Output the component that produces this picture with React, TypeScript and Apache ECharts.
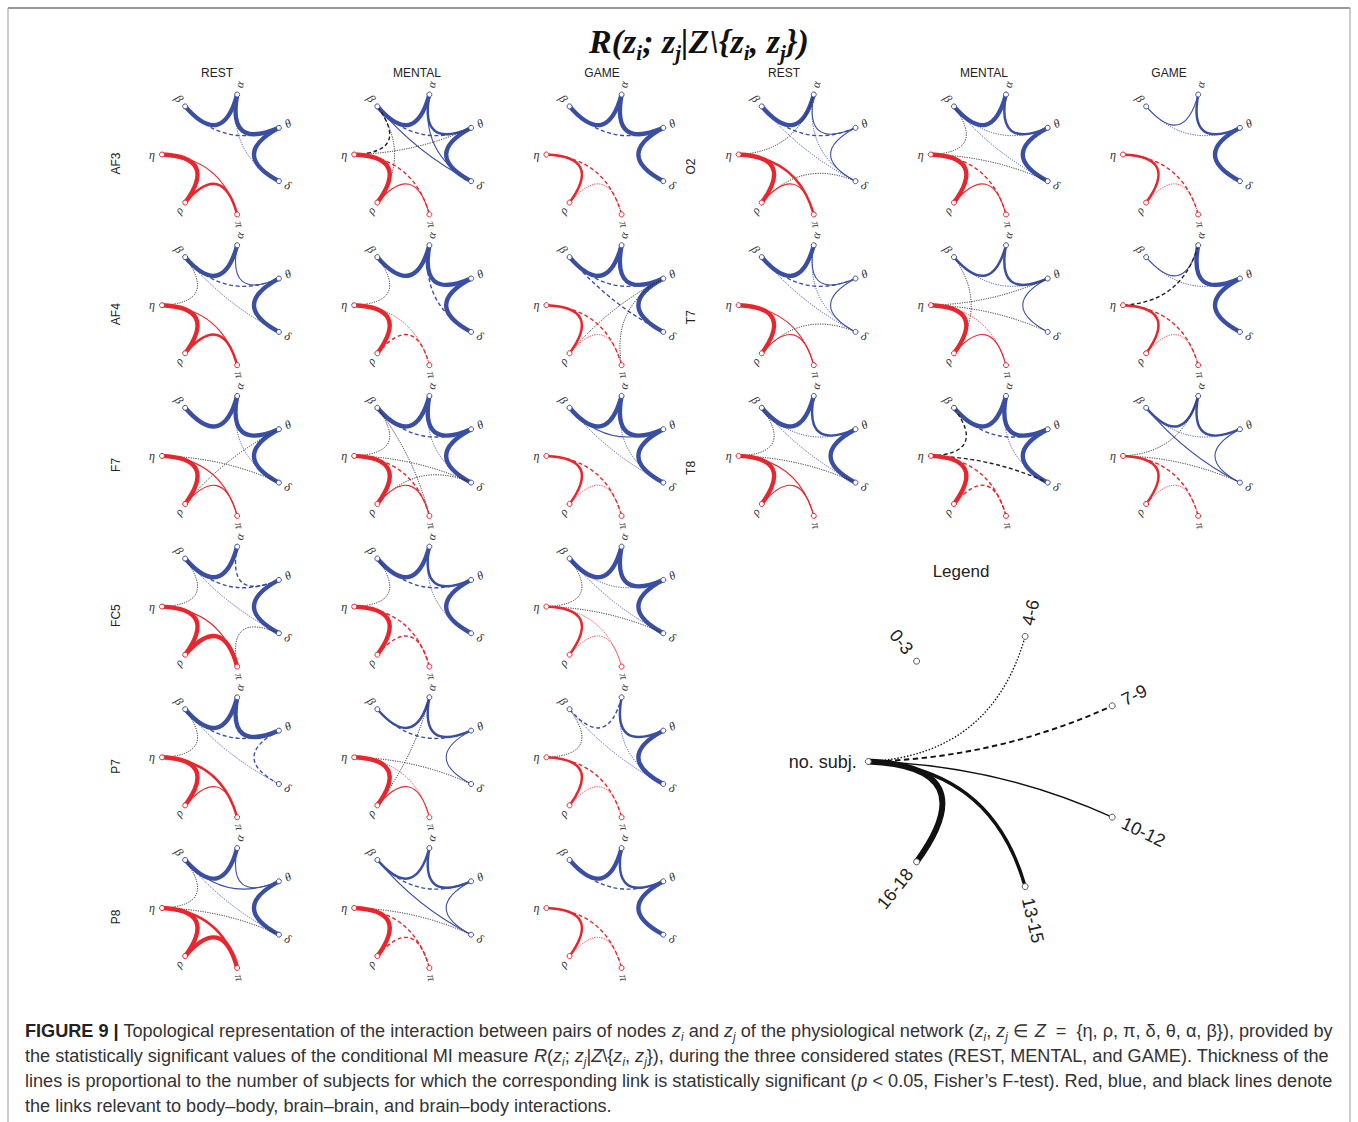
import React, { useEffect, useRef } from 'react';
import * as echarts from 'echarts';

// ---------- data ----------
// node order follows the circular layout (clockwise from the lower right)
const NODES = ['δ', 'π', 'ρ', 'η', 'β', 'α', 'θ'];
const BRAIN_NODES = ['δ', 'θ', 'α', 'β'];
const STATES = ['REST', 'MENTAL', 'GAME'];
const CHANNELS_LEFT = ['AF3', 'AF4', 'F7', 'FC5', 'P7', 'P8'];
const CHANNELS_RIGHT = ['O2', 'T7', 'T8'];
// significance level of a link: 1 = 4-6, 2 = 7-9, 3 = 10-12, 4 = 13-15, 5 = 16-18 subjects
const LEVEL_LABELS = ['0-3', '4-6', '7-9', '10-12', '13-15', '16-18'];
const LEGEND_NODES = ['10-12', '13-15', '16-18', 'no. subj.', '0-3', '4-6', '7-9'];

type Link = [string, string, number];

const AF3: Link[][] = [
  [['β', 'α', 5], ['α', 'θ', 5], ['θ', 'δ', 5], ['β', 'θ', 2], ['α', 'δ', 1], ['η', 'ρ', 5], ['ρ', 'π', 4], ['η', 'π', 3]],
  [['β', 'α', 5], ['α', 'θ', 4], ['θ', 'δ', 5], ['β', 'θ', 2], ['β', 'δ', 3], ['α', 'δ', 3], ['β', 'η', 2], ['β', 'ρ', 1], ['θ', 'η', 1], ['η', 'ρ', 5], ['ρ', 'π', 3], ['η', 'π', 2]],
  [['β', 'α', 5], ['α', 'θ', 5], ['θ', 'δ', 5], ['β', 'θ', 2], ['η', 'ρ', 4], ['ρ', 'π', 1], ['η', 'π', 2]],
];
const AF4: Link[][] = [
  [['β', 'α', 5], ['α', 'θ', 3], ['θ', 'δ', 5], ['β', 'θ', 2], ['β', 'δ', 1], ['β', 'η', 1], ['η', 'ρ', 5], ['ρ', 'π', 4], ['η', 'π', 3]],
  [['β', 'α', 5], ['α', 'θ', 5], ['θ', 'δ', 5], ['α', 'δ', 2], ['β', 'η', 1], ['η', 'ρ', 5], ['ρ', 'π', 2], ['η', 'π', 1]],
  [['β', 'α', 5], ['α', 'θ', 5], ['θ', 'δ', 5], ['β', 'θ', 2], ['β', 'δ', 2], ['θ', 'ρ', 1], ['θ', 'π', 1], ['η', 'ρ', 4], ['ρ', 'π', 1], ['η', 'π', 2]],
];
const F7: Link[][] = [
  [['β', 'α', 5], ['α', 'θ', 5], ['θ', 'δ', 5], ['α', 'δ', 1], ['θ', 'ρ', 1], ['η', 'δ', 1], ['η', 'ρ', 5], ['ρ', 'π', 3], ['η', 'π', 3]],
  [['β', 'α', 5], ['α', 'θ', 5], ['θ', 'δ', 5], ['β', 'θ', 2], ['α', 'δ', 1], ['β', 'η', 1], ['β', 'π', 1], ['η', 'δ', 1], ['ρ', 'δ', 1], ['η', 'ρ', 5], ['ρ', 'π', 3], ['η', 'π', 2]],
  [['β', 'α', 5], ['α', 'θ', 5], ['θ', 'δ', 5], ['β', 'θ', 3], ['β', 'δ', 1], ['α', 'δ', 1], ['η', 'ρ', 4], ['ρ', 'π', 1], ['η', 'π', 2]],
];
const FC5: Link[][] = [
  [['β', 'α', 5], ['α', 'θ', 2], ['θ', 'δ', 5], ['β', 'θ', 2], ['β', 'δ', 1], ['β', 'η', 1], ['δ', 'π', 1], ['η', 'ρ', 5], ['ρ', 'π', 5], ['η', 'π', 3]],
  [['β', 'α', 5], ['α', 'θ', 4], ['θ', 'δ', 5], ['β', 'θ', 2], ['α', 'δ', 1], ['β', 'η', 1], ['η', 'ρ', 5], ['ρ', 'π', 2], ['η', 'π', 2]],
  [['β', 'α', 5], ['α', 'θ', 5], ['θ', 'δ', 5], ['β', 'θ', 1], ['β', 'δ', 1], ['β', 'η', 1], ['η', 'δ', 1], ['η', 'ρ', 4], ['η', 'π', 1], ['ρ', 'π', 1]],
];
const P7: Link[][] = [
  [['β', 'α', 5], ['α', 'θ', 5], ['θ', 'δ', 2], ['β', 'θ', 2], ['β', 'δ', 1], ['β', 'η', 1], ['η', 'ρ', 5], ['ρ', 'π', 3], ['η', 'π', 4]],
  [['β', 'α', 4], ['α', 'θ', 4], ['θ', 'δ', 3], ['β', 'θ', 2], ['α', 'ρ', 1], ['η', 'δ', 1], ['η', 'ρ', 5], ['ρ', 'π', 3], ['η', 'π', 1]],
  [['β', 'α', 2], ['α', 'θ', 4], ['θ', 'δ', 5], ['β', 'δ', 1], ['α', 'δ', 1], ['β', 'η', 1], ['η', 'ρ', 4], ['η', 'π', 2], ['ρ', 'π', 1]],
];
const P8: Link[][] = [
  [['β', 'α', 5], ['α', 'θ', 3], ['θ', 'δ', 5], ['β', 'θ', 3], ['β', 'δ', 1], ['β', 'η', 1], ['η', 'δ', 1], ['η', 'ρ', 5], ['ρ', 'π', 5], ['η', 'π', 4]],
  [['β', 'α', 4], ['α', 'θ', 4], ['θ', 'δ', 3], ['β', 'θ', 2], ['β', 'δ', 3], ['η', 'δ', 1], ['η', 'ρ', 5], ['η', 'π', 2], ['ρ', 'π', 2]],
  [['β', 'α', 5], ['α', 'θ', 4], ['θ', 'δ', 5], ['β', 'θ', 2], ['η', 'ρ', 4], ['η', 'π', 2], ['ρ', 'π', 1]],
];
const O2: Link[][] = [
  [['β', 'α', 5], ['α', 'θ', 3], ['θ', 'δ', 3], ['β', 'θ', 2], ['β', 'δ', 1], ['α', 'δ', 1], ['α', 'η', 1], ['ρ', 'δ', 1], ['η', 'ρ', 5], ['ρ', 'π', 3], ['η', 'π', 4]],
  [['β', 'α', 5], ['α', 'θ', 4], ['θ', 'δ', 5], ['β', 'θ', 1], ['β', 'δ', 1], ['β', 'η', 1], ['η', 'δ', 1], ['η', 'ρ', 5], ['η', 'π', 2], ['ρ', 'π', 3]],
  [['β', 'α', 3], ['α', 'θ', 4], ['θ', 'δ', 5], ['β', 'θ', 1], ['η', 'ρ', 4], ['η', 'π', 2], ['ρ', 'π', 1]],
];
const T7: Link[][] = [
  [['β', 'α', 5], ['α', 'θ', 3], ['θ', 'δ', 3], ['β', 'θ', 2], ['β', 'δ', 1], ['α', 'δ', 1], ['ρ', 'δ', 1], ['η', 'ρ', 5], ['ρ', 'π', 3], ['η', 'π', 3]],
  [['β', 'α', 4], ['α', 'θ', 4], ['θ', 'δ', 3], ['β', 'θ', 1], ['β', 'ρ', 1], ['η', 'θ', 1], ['η', 'δ', 1], ['η', 'ρ', 5], ['ρ', 'π', 3], ['η', 'π', 1]],
  [['β', 'α', 3], ['α', 'θ', 5], ['θ', 'δ', 5], ['β', 'θ', 1], ['α', 'η', 2], ['η', 'ρ', 4], ['η', 'π', 2], ['ρ', 'π', 1]],
];
const T8: Link[][] = [
  [['β', 'α', 5], ['α', 'θ', 4], ['θ', 'δ', 5], ['β', 'θ', 1], ['β', 'δ', 1], ['β', 'η', 1], ['η', 'δ', 1], ['η', 'ρ', 5], ['ρ', 'π', 3], ['η', 'π', 3]],
  [['β', 'α', 5], ['α', 'θ', 5], ['θ', 'δ', 5], ['β', 'θ', 2], ['α', 'δ', 1], ['β', 'η', 2], ['η', 'δ', 2], ['η', 'ρ', 5], ['η', 'π', 2], ['ρ', 'π', 2]],
  [['β', 'α', 4], ['α', 'θ', 4], ['θ', 'δ', 3], ['β', 'θ', 1], ['β', 'δ', 3], ['α', 'η', 1], ['η', 'δ', 1], ['η', 'ρ', 4], ['η', 'π', 2], ['ρ', 'π', 1]],
];
const LEFT_DATA = [AF3, AF4, F7, FC5, P7, P8];
const RIGHT_DATA = [O2, T7, T8];

// ---------- layout & style ----------
const W = 1358;
const H = 1122;
const COL_X0 = 223.5;
const COL_DX = 192.2;
const ROW_Y0 = 154.5;
const ROW_DY = 150.7;
const R = 61.5;
const HEADER_X = [217, 417, 602, 784, 984, 1169];
const BLUE = '#3a4fa3';
const RED = '#e8262d';
const BLACK = '#222222';
const SANS = 'Liberation Sans, Arial, sans-serif';
const SERIF = 'Liberation Serif, Times New Roman, serif';

function levelStyle(level: number, s: number) {
  switch (level) {
    case 1: return { width: 1 * s, type: [1.1 * s, 1.3 * s] };
    case 2: return { width: 1.4 * s, type: [4 * s, 2.6 * s] };
    case 3: return { width: 1.1 * s, type: 'solid' };
    case 4: return { width: 2.5 * s, type: 'solid' };
    default: return { width: 4.4 * s, type: 'solid' };
  }
}

const isBrain = (n: string) => BRAIN_NODES.includes(n);

function panelSeries(links: Link[], cx: number, cy: number) {
  return {
    type: 'graph',
    layout: 'circular',
    circular: { rotateLabel: true },
    left: cx - R,
    top: cy - R,
    width: 2 * R,
    height: 2 * R,
    roam: false,
    silent: true,
    symbol: 'circle',
    symbolSize: 5,
    label: { show: true, fontFamily: SERIF, fontStyle: 'italic', fontSize: 12, color: '#333', distance: 4 },
    lineStyle: { opacity: 1, curveness: 0.3 },
    emphasis: { disabled: true },
    data: NODES.map((n) => ({
      name: n,
      itemStyle: { color: '#fff', borderColor: isBrain(n) ? BLUE : RED, borderWidth: 1 },
    })),
    links: links.map(([a, b, lvl]) => {
      const ba = isBrain(a);
      const bb = isBrain(b);
      const color = ba && bb ? BLUE : !ba && !bb ? RED : BLACK;
      return {
        source: a,
        target: b,
        lineStyle: { color, opacity: 1, curveness: 0.3, ...levelStyle(lvl, 1) },
      };
    }),
  };
}

function legendSeries() {
  const cx = 996.6;
  const cy = 761.5;
  const r = 128.3;
  return {
    type: 'graph',
    layout: 'circular',
    circular: { rotateLabel: true },
    left: cx - r,
    top: cy - r,
    width: 2 * r,
    height: 2 * r,
    roam: false,
    silent: true,
    symbol: 'circle',
    symbolSize: 6,
    label: { show: true, fontFamily: SANS, fontSize: 18, color: '#222', distance: 8 },
    lineStyle: { opacity: 1, curveness: 0.3 },
    emphasis: { disabled: true },
    data: LEGEND_NODES.map((n) => ({
      name: n,
      itemStyle: { color: '#fff', borderColor: '#555', borderWidth: 1 },
    })),
    links: LEVEL_LABELS.map((lab, lvl) => ({ lab, lvl }))
      .filter((d) => d.lvl > 0)
      .map((d) => ({
        source: 'no. subj.',
        target: d.lab,
        lineStyle: { color: '#111', opacity: 1, curveness: 0.3, ...levelStyle(d.lvl, 1.35) },
      })),
  };
}

const CAPTION_LINES = [
  '{b|FIGURE 9 |} Topological representation of the interaction between pairs of nodes {i|z}{sub|i} and {i|z}{sub|j} of the physiological network ({i|z}{sub|i}, {i|z}{sub|j} ∈ {i|Z}  =  {η, ρ, π, δ, θ, α, β}), provided by',
  'the statistically significant values of the conditional MI measure {i|R}({i|z}{sub|i}; {i|z}{sub|j}|{i|Z}\\{{i|z}{sub|i}, {i|z}{sub|j}}), during the three considered states (REST, MENTAL, and GAME). Thickness of the',
  'lines is proportional to the number of subjects for which the corresponding link is statistically significant ({i|p} < 0.05, Fisher’s F-test). Red, blue, and black lines denote',
  'the links relevant to body–body, brain–brain, and brain–body interactions.',
];

function buildOption() {
  const series: any[] = [];
  LEFT_DATA.forEach((chan, row) => {
    chan.forEach((links, col) => {
      series.push(panelSeries(links, COL_X0 + col * COL_DX, ROW_Y0 + row * ROW_DY));
    });
  });
  RIGHT_DATA.forEach((chan, row) => {
    chan.forEach((links, col) => {
      series.push(panelSeries(links, COL_X0 + (col + 3) * COL_DX, ROW_Y0 + row * ROW_DY));
    });
  });
  series.push(legendSeries());

  const graphic: any[] = [];
  // frame
  graphic.push({ type: 'line', shape: { x1: 8, y1: 8, x2: 1350, y2: 8 }, style: { stroke: '#777', lineWidth: 1.5 } });
  graphic.push({ type: 'line', shape: { x1: 8, y1: 8, x2: 8, y2: H }, style: { stroke: '#999', lineWidth: 1 } });
  graphic.push({ type: 'line', shape: { x1: 1350, y1: 8, x2: 1350, y2: H }, style: { stroke: '#999', lineWidth: 1 } });

  // title
  const mainFont = { fontFamily: SERIF, fontSize: 34, fontWeight: 'bold', fontStyle: 'italic', lineHeight: 44, fill: '#111' };
  graphic.push({
    type: 'text',
    x: 699,
    y: 41,
    style: {
      text: '{m|R(z}{s|i}{m|; z}{s|j}{m||Z\\{z}{s|i}{m|, z}{s|j}}{m|)}',
      ...mainFont,
      textAlign: 'center',
      textVerticalAlign: 'middle',
      rich: {
        m: { ...mainFont, verticalAlign: 'middle' },
        s: { fontFamily: SERIF, fontSize: 21, fontWeight: 'bold', fontStyle: 'italic', lineHeight: 21, verticalAlign: 'bottom', fill: '#111' },
      },
    },
  });

  // column headers
  HEADER_X.forEach((x, i) => {
    graphic.push({
      type: 'text', x, y: 73,
      style: { text: STATES[i % 3], fontFamily: SANS, fontSize: 12, fill: '#222', textAlign: 'center', textVerticalAlign: 'middle' },
    });
  });
  // row labels
  CHANNELS_LEFT.forEach((ch, row) => {
    graphic.push({
      type: 'text', x: COL_X0 - 108, y: ROW_Y0 + row * ROW_DY + 9, rotation: Math.PI / 2,
      style: { text: ch, fontFamily: SANS, fontSize: 12, fill: '#222', textAlign: 'center', textVerticalAlign: 'middle' },
    });
  });
  CHANNELS_RIGHT.forEach((ch, row) => {
    graphic.push({
      type: 'text', x: COL_X0 + 3 * COL_DX - 109, y: ROW_Y0 + row * ROW_DY + 12, rotation: Math.PI / 2,
      style: { text: ch, fontFamily: SANS, fontSize: 12, fill: '#222', textAlign: 'center', textVerticalAlign: 'middle' },
    });
  });
  // legend title
  graphic.push({
    type: 'text', x: 961, y: 571,
    style: { text: 'Legend', fontFamily: SANS, fontSize: 17, fill: '#222', textAlign: 'center', textVerticalAlign: 'middle' },
  });

  // caption
  const capBase = { fontFamily: SANS, fontSize: 18.5, lineHeight: 25, fill: '#333' };
  CAPTION_LINES.forEach((line, i) => {
    graphic.push({
      type: 'text', x: 25, y: 1030 + i * 25, scaleX: 0.98,
      style: {
        text: line,
        ...capBase,
        textAlign: 'left',
        textVerticalAlign: 'middle',
        rich: {
          b: { ...capBase, fontWeight: 'bold', fill: '#222' },
          i: { ...capBase, fontStyle: 'italic' },
          sub: { fontFamily: SANS, fontSize: 12, fontStyle: 'italic', lineHeight: 12, verticalAlign: 'bottom', fill: '#333' },
        },
      },
    });
  });

  return {
    backgroundColor: '#ffffff',
    animation: false,
    series,
    graphic,
  };
}

export default function App() {
  const ref = useRef<HTMLDivElement>(null);
  useEffect(() => {
    if (!ref.current) return;
    const chart = echarts.init(ref.current, undefined, { renderer: 'svg' });
    chart.setOption(buildOption() as any);
    return () => chart.dispose();
  }, []);
  return <div ref={ref} style={{ position: 'fixed', left: 0, top: 0, width: W, height: H, background: '#fff' }} />;
}
